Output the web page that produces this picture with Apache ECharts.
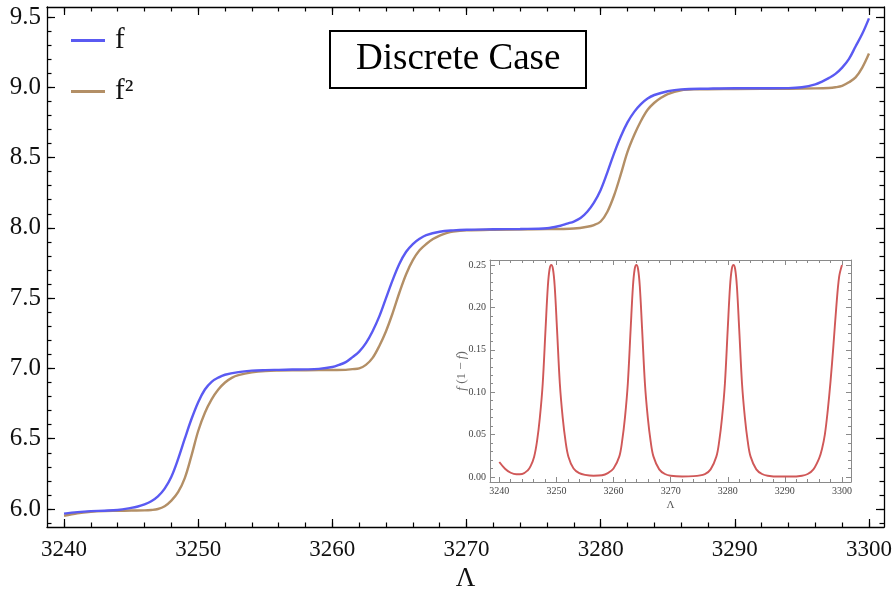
<!DOCTYPE html>
<html><head><meta charset="utf-8">
<script src="https://cdn.jsdelivr.net/npm/echarts@6/dist/echarts.min.js"></script>
<style>html,body{margin:0;padding:0;background:#fff}#c{width:892px;height:594px}</style>
</head><body><div id="c"></div>
<script>
// ---- data ----
const lambdaF = [3240,3241,3242,3243,3244,3245,3245.5,3246,3246.5,3247,3247.5,3248,3248.5,3249,3249.5,3250,3250.5,3251,3251.5,3252,3253,3254,3255,3256,3257,3258,3259,3260,3260.5,3261,3261.5,3262,3262.5,3263,3263.5,3264,3264.5,3265,3265.5,3266,3266.5,3267,3268,3269,3270,3272,3274,3276,3277,3277.5,3278,3278.5,3279,3279.5,3280,3280.5,3281,3281.5,3282,3282.5,3283,3283.5,3284,3285,3286,3288,3290,3292,3294,3295,3296,3296.5,3297,3297.5,3298,3298.5,3299,3299.5,3300];
const valuesF = [5.967,5.978,5.985,5.988,5.993,6.008,6.018,6.033,6.055,6.09,6.145,6.23,6.355,6.5,6.64,6.76,6.85,6.905,6.935,6.955,6.974,6.984,6.988,6.99,6.992,6.993,6.997,7.01,7.025,7.045,7.08,7.12,7.18,7.265,7.37,7.5,7.63,7.745,7.83,7.885,7.922,7.948,7.972,7.982,7.987,7.99,7.992,7.997,8.015,8.03,8.045,8.07,8.115,8.18,8.27,8.395,8.53,8.65,8.75,8.825,8.88,8.92,8.945,8.972,8.985,8.99,8.993,8.993,8.994,9.0,9.02,9.04,9.065,9.095,9.14,9.2,9.29,9.38,9.49];

const lambdaF2 = [3240,3241,3242,3243,3244,3245,3246,3246.5,3247,3247.5,3248,3248.5,3249,3249.5,3250,3250.5,3251,3251.5,3252,3252.5,3253,3254,3255,3256,3258,3260,3261,3261.5,3262,3262.5,3263,3263.5,3264,3264.5,3265,3265.5,3266,3266.5,3267,3267.5,3268,3268.5,3269,3270,3272,3275,3277,3278,3279,3279.5,3280,3280.5,3281,3281.5,3282,3282.5,3283,3283.5,3284,3284.5,3285,3286,3287,3290,3294,3296,3297,3297.5,3298,3298.5,3299,3299.5,3300];
const valuesF2 = [5.952,5.97,5.98,5.985,5.987,5.989,5.99,5.993,6.0,6.02,6.06,6.12,6.22,6.38,6.555,6.685,6.78,6.85,6.9,6.933,6.952,6.972,6.982,6.985,6.987,6.989,6.99,6.995,7.0,7.025,7.075,7.16,7.265,7.395,7.54,7.67,7.77,7.84,7.885,7.92,7.945,7.962,7.973,7.982,7.987,7.99,7.992,7.995,8.008,8.02,8.045,8.115,8.23,8.38,8.54,8.66,8.76,8.84,8.89,8.925,8.952,8.978,8.985,8.988,8.99,8.992,8.995,9.0,9.01,9.035,9.07,9.14,9.24];

const lambdaInset = [3240,3241,3242,3243,3244,3245,3245.5,3246.1,3246.6,3247.1,3247.6,3248.1,3248.5,3248.8,3249.1,3249.4,3249.7,3250.1,3250.6,3251.1,3251.6,3252.1,3253,3254,3255,3256.5,3258,3259,3260,3261,3261.5,3262,3262.5,3263,3263.4,3263.7,3264,3264.3,3264.6,3265,3265.5,3266,3266.5,3267,3268,3269,3270,3272,3274,3276,3277,3278,3278.5,3279,3279.5,3280,3280.4,3280.7,3281,3281.3,3281.6,3282,3282.5,3283,3283.5,3284,3285,3286,3287,3289,3291,3293,3294,3295,3296,3296.5,3297,3297.5,3298,3298.5,3299,3299.5,3300];
const valuesInset = [0.0177,0.0098,0.005,0.0032,0.0035,0.008,0.013,0.024,0.042,0.07,0.11,0.175,0.225,0.245,0.25,0.245,0.225,0.175,0.11,0.07,0.042,0.024,0.01,0.0045,0.0025,0.0015,0.002,0.0045,0.01,0.024,0.042,0.07,0.11,0.175,0.225,0.245,0.25,0.245,0.225,0.175,0.11,0.07,0.042,0.024,0.009,0.0035,0.0015,0.0006,0.001,0.0035,0.009,0.024,0.042,0.07,0.11,0.175,0.225,0.245,0.25,0.245,0.225,0.175,0.11,0.07,0.042,0.024,0.009,0.0035,0.0015,0.0005,0.0005,0.0015,0.0035,0.009,0.022,0.033,0.05,0.078,0.113,0.155,0.2,0.236,0.25];

const mainXTicks = [3240,3250,3260,3270,3280,3290,3300];
const mainYTicks = [6.0,6.5,7.0,7.5,8.0,8.5,9.0,9.5];
const insetXTicks = [3240,3250,3260,3270,3280,3290,3300];
const insetYTicks = [0.00,0.05,0.10,0.15,0.20,0.25];

// ---- helpers ----
const SERIF = '"Liberation Serif","Times New Roman",serif';
function steps(a, b, s) { const r = []; for (let i = 0; a + i * s <= b + 1e-9; i++) r.push(+(a + i * s).toFixed(4)); return r; }
function pairs(xs, ys) { return xs.map((x, i) => [x, ys[i]]); }

function axisSet(dim, gridIndex, min, max, major, minor, c) {
  const posA = dim === 'x' ? 'bottom' : 'left';
  const posB = dim === 'x' ? 'top' : 'right';
  const base = { type: 'value', gridIndex, min, max, splitLine: { show: false }, scale: true };
  const line = { show: true, onZero: false, lineStyle: { color: c.color, width: c.lineWidth } };
  const noLine = { show: false, onZero: false };
  const mk = (pos, showLine, vals, len, labels) => Object.assign({}, base, {
    position: pos,
    axisLine: showLine ? line : noLine,
    axisTick: { show: true, inside: true, length: len, customValues: vals, lineStyle: { color: c.color, width: c.tickWidth } },
    axisLabel: labels ? Object.assign({ show: true, customValues: major }, labels) : { show: false }
  });
  const primary = mk(posA, true, major, c.majorLen, {
    margin: c.labelMargin, fontFamily: SERIF, fontSize: c.labelSize, color: c.labelColor, formatter: c.fmt,
    padding: c.labelPadding || 0
  });
  if (c.name) {
    primary.name = c.name; primary.nameLocation = 'middle'; primary.nameGap = c.nameGap;
    primary.nameMoveOverlap = false;
    primary.nameTextStyle = c.nameStyle;
    if (c.nameRotate !== undefined) primary.nameRotate = c.nameRotate;
  }
  return [primary, mk(posA, false, minor, c.minorLen, null), mk(posB, true, major, c.majorLen, null), mk(posB, false, minor, c.minorLen, null)];
}

const mainStyle = { color: '#000', lineWidth: 1.3, tickWidth: 1.2, majorLen: 8, minorLen: 4.5, labelSize: 25, labelColor: '#111' };
const insetStyle = { color: '#8a8a8a', lineWidth: 1, tickWidth: 1, majorLen: 5, minorLen: 3, labelSize: 10, labelColor: '#444' };

const xAxes = [
  ...axisSet('x', 0, 3238.73, 3301.12, mainXTicks, steps(3240, 3300, 2), Object.assign({}, mainStyle, {
    labelSize: 23, labelMargin: 11, fmt: v => String(Math.round(v)), name: 'Λ', nameGap: 38,
    nameStyle: { fontFamily: SERIF, fontSize: 27, color: '#111' } })),
  ...axisSet('x', 1, 3238.37, 3301.58, insetXTicks, steps(3240, 3300, 2), Object.assign({}, insetStyle, {
    labelMargin: 4, fmt: v => String(Math.round(v)), name: 'Λ', nameGap: 18,
    nameStyle: { fontFamily: SERIF, fontSize: 11, color: '#555' } }))
];
const yAxes = [
  ...axisSet('y', 0, 5.872, 9.571, mainYTicks, steps(5.9, 9.5, 0.1), Object.assign({}, mainStyle, {
    labelMargin: 6, labelPadding: [4, 0, 0, 0], fmt: v => v.toFixed(1) })),
  ...axisSet('y', 1, -0.0059, 0.2559, insetYTicks, steps(0, 0.25, 0.01), Object.assign({}, insetStyle, {
    labelMargin: 4, fmt: v => v.toFixed(2), name: '{i|f} (1 − {i|f})', nameGap: 22, nameRotate: 90,
    nameStyle: { fontFamily: SERIF, fontSize: 13, color: '#666', rich: { i: { fontStyle: 'italic', fontFamily: SERIF, fontSize: 13, color: '#666' } } } }))
];

const option = {
  animation: false,
  backgroundColor: '#fff',
  grid: [
    { left: 47, top: 7, width: 837, height: 520, containLabel: false, outerBoundsMode: 'none' },
    { left: 490, top: 260, width: 361, height: 222, show: true, backgroundColor: '#fff', borderWidth: 0, containLabel: false, outerBoundsMode: 'none' }
  ],
  title: {
    text: 'Discrete Case', left: 330, top: 31, padding: [10, 26, 10, 26],
    borderColor: '#000', borderWidth: 2,
    textStyle: { fontFamily: SERIF, fontSize: 37, fontWeight: 'normal', color: '#000' }
  },
  legend: {
    orient: 'vertical', left: 66, top: 21, itemWidth: 34, itemHeight: 3, itemGap: 22,
    icon: 'rect',
    data: ['f', 'f²'],
    textStyle: { fontFamily: SERIF, fontSize: 29, color: '#111', padding: [0, 0, 0, 5] }
  },
  xAxis: xAxes,
  yAxis: yAxes,
  series: [
    { name: 'f', type: 'line', xAxisIndex: 0, yAxisIndex: 0, data: pairs(lambdaF, valuesF), showSymbol: false, smooth: 0.35,
      lineStyle: { color: '#5a5af2', width: 2.4 }, itemStyle: { color: '#5a5af2' }, z: 3 },
    { name: 'f²', type: 'line', xAxisIndex: 0, yAxisIndex: 0, data: pairs(lambdaF2, valuesF2), showSymbol: false, smooth: 0.35,
      lineStyle: { color: '#b38f66', width: 2.4 }, itemStyle: { color: '#b38f66' }, z: 2 },
    { name: 'inset', type: 'line', xAxisIndex: 4, yAxisIndex: 4, data: pairs(lambdaInset, valuesInset), showSymbol: false, smooth: 0.35,
      lineStyle: { color: '#d05858', width: 1.9 }, itemStyle: { color: '#d05858' } }
  ]
};
const chart = echarts.init(document.getElementById('c'), null, { renderer: 'canvas' });
chart.setOption(option);
</script>
</body></html>
